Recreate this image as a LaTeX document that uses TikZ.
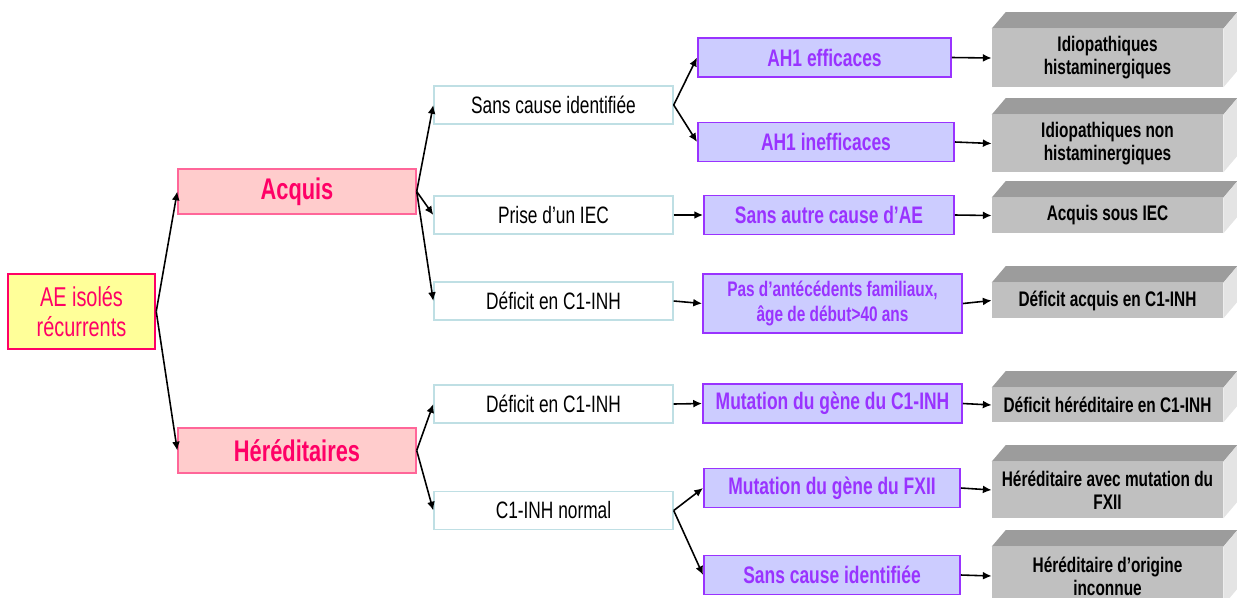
\documentclass[tikz,border=0pt]{standalone}
\usepackage{fontspec}
\setmainfont{Liberation Sans}[FakeStretch=0.73]
\usetikzlibrary{arrows.meta}

\definecolor{aered}{HTML}{FF0066}
\definecolor{aeyellow}{HTML}{FFFF99}
\definecolor{catfill}{HTML}{FFCCCC}
\definecolor{catline}{HTML}{FF6699}
\definecolor{critline}{HTML}{BFDFE4}
\definecolor{purpfill}{HTML}{CCCCFF}
\definecolor{purpline}{HTML}{9933FF}
\definecolor{greyfront}{HTML}{C0C0C0}
\definecolor{greytop}{HTML}{9C9C9C}
\definecolor{greyside}{HTML}{E4E4E4}

\tikzset{
  rootbox/.style={draw=aered,line width=1.4pt,fill=aeyellow,text=aered,align=center,
    minimum width=2.94cm,minimum height=1.5cm,inner sep=0pt,
    font=\fontsize{15.5}{17.5}\selectfont},
  catbox/.style={draw=catline,line width=0.8pt,fill=catfill,text=aered,
    minimum width=4.76cm,minimum height=0.9cm,inner sep=0pt,
    font=\fontsize{17}{19}\selectfont\bfseries},
  critbox/.style={draw=critline,line width=0.8pt,fill=white,
    minimum width=4.78cm,minimum height=0.76cm,inner sep=0pt,
    font=\fontsize{13.5}{15}\selectfont},
  purpbox/.style={draw=purpline,line width=1.1pt,fill=purpfill,text=purpline,align=center,
    minimum height=0.78cm,inner sep=0pt,
    font=\fontsize{13.6}{15}\selectfont\bfseries},
  resbox/.style={fill=greyfront,align=center,minimum width=4.62cm,inner sep=0pt,
    font=\fontsize{12}{13}\selectfont\bfseries},
  arr/.style={-{Latex[length=5pt,width=4.5pt]},line width=0.9pt}
}

\begin{document}
\begin{tikzpicture}
\useasboundingbox (0,0) rectangle (24.74,-11.94);

% root and the two main branches
\node[rootbox] (ae) at (1.63,-6.23) {AE isolés\\récurrents};
\node[catbox] (acq) at (5.94,-3.83) {Acquis};
\node[catbox] (her) at (5.94,-9.01) {Héréditaires};

% criteria
\node[critbox] (sci) at (11.07,-2.10) {Sans cause identifiée};
\node[critbox] (iec) at (11.07,-4.30) {Prise d’un IEC};
\node[critbox] (defa) at (11.07,-6.02) {Déficit en C1-INH};
\node[critbox] (defh) at (11.07,-8.08) {Déficit en C1-INH};
\node[critbox] (norm) at (11.07,-10.21) {C1-INH normal};

% purple boxes
\node[purpbox,minimum width=5.06cm] (p1) at (16.49,-1.15) {AH1 efficaces};
\node[purpbox,minimum width=5.12cm] (p2) at (16.52,-2.84) {AH1 inefficaces};
\node[purpbox,minimum width=5.00cm] (p3) at (16.58,-4.30) {Sans autre cause d’AE};
\node[purpbox,minimum width=5.18cm,minimum height=1.18cm,
      font=\fontsize{12}{14.2}\selectfont\bfseries] (p4) at (16.65,-6.07)
      {Pas d’antécédents familiaux,\\âge de début>40 ans};
\node[purpbox,minimum width=5.18cm] (p5) at (16.65,-8.07) {Mutation du gène du C1-INH};
\node[purpbox,minimum width=5.12cm] (p6) at (16.64,-9.76) {Mutation du gène du FXII};
\node[purpbox,minimum width=5.12cm] (p7) at (16.64,-11.50) {Sans cause identifiée};

% grey result blocks
\node[resbox,minimum height=1.16cm] (g1) at (22.15,-1.16) {Idiopathiques\\histaminergiques};
\node[resbox,minimum height=1.14cm] (g2) at (22.15,-2.87) {Idiopathiques non\\histaminergiques};
\node[resbox,minimum height=0.70cm] (g3) at (22.15,-4.31) {Acquis sous IEC};
\node[resbox,minimum height=0.70cm] (g4) at (22.15,-6.01) {Déficit acquis en C1-INH};
\node[resbox,minimum height=0.68cm] (g5) at (22.15,-8.10) {Déficit héréditaire en C1-INH};
\node[resbox,minimum height=1.12cm] (g6) at (22.15,-9.80) {Héréditaire avec mutation du\\FXII};
\node[resbox,minimum height=1.16cm] (g7) at (22.15,-11.52) {Héréditaire d’origine\\inconnue};

\foreach \n in {g1,g2,g3,g4,g5,g6,g7} {
  \fill[greytop] (\n.north west) -- ++(0.28,0.33) -- ([shift={(0.28,0.33)}]\n.north east)
    -- (\n.north east) -- cycle;
  \fill[greyside] (\n.north east) -- ++(0.28,0.33) -- ([shift={(0.28,0.33)}]\n.south east)
    -- (\n.south east) -- cycle;
}

% connectors
\draw[arr] (ae.east) -- (acq.west);
\draw[arr] (ae.east) -- (her.west);
\foreach \t in {sci,iec,defa} \draw[arr] (acq.east) -- (\t.west);
\foreach \t in {defh,norm} \draw[arr] (her.east) -- (\t.west);
\draw[arr] (sci.east) -- (p1.west);
\draw[arr] (sci.east) -- (p2.west);
\draw[arr] (iec.east) -- (p3.west);
\draw[arr] (defa.east) -- (p4.west);
\draw[arr] (defh.east) -- (p5.west);
\draw[arr] (norm.east) -- (p6.west);
\draw[arr] (norm.east) -- (p7.west);
\foreach \i in {1,...,7} \draw[arr] (p\i.east) -- (g\i.west);

\end{tikzpicture}
\end{document}
